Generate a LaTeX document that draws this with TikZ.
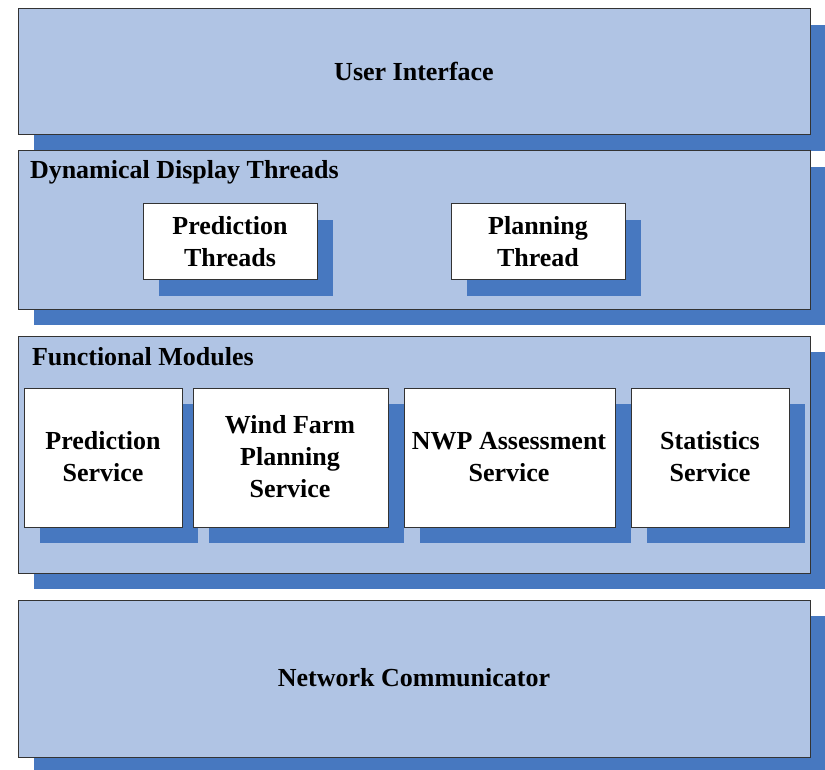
\documentclass[tikz,border=0pt]{standalone}
\usepackage{fontspec}
\setmainfont{Liberation Serif}
\usetikzlibrary{shadows}
\definecolor{panelc}{RGB}{176,196,228}
\definecolor{shadec}{RGB}{71,120,192}
\begin{document}
\begin{tikzpicture}[x=1pt,y=-1pt,
  every node/.style={inner sep=0pt, outer sep=0pt},
  txt/.style={font=\fontsize{26}{32}\selectfont\bfseries, align=center},
  layer/.style={draw=black!80, line width=1pt, fill=panelc, anchor=north west,
    drop shadow={shadow xshift=16pt, shadow yshift=-16pt, opacity=1, fill=shadec, draw=none}},
  item/.style={draw=black!80, line width=1pt, fill=white, anchor=north west,
    drop shadow={shadow xshift=16pt, shadow yshift=-16pt, opacity=1, fill=shadec, draw=none}},
  title/.style={txt, anchor=west}]
\useasboundingbox (0,0) rectangle (825,770);
% layers
\node[layer, minimum width=792pt, minimum height=126pt] (ui) at (18,9) {};
\node[txt] (uit) at (414,71) {User Interface};
\node[layer, minimum width=792pt, minimum height=158pt] (ddt) at (18,151) {};
\node[title] (ddtt) at (30,172) {Dynamical Display Threads};
\node[item, minimum width=174pt, minimum height=76pt] (pt) at (143,204) {};
\node[txt] (ptt) at (230,242) {Prediction\\Threads};
\node[item, minimum width=174pt, minimum height=76pt] (plt) at (451,204) {};
\node[txt] (pltt) at (538,242) {Planning\\Thread};
\node[layer, minimum width=792pt, minimum height=237pt] (fm) at (18,336) {};
\node[title] (fmt) at (32,357) {Functional Modules};
\node[item, minimum width=158pt, minimum height=139pt] (ps) at (24,388) {};
\node[txt] (pst) at (103,457) {Prediction\\Service};
\node[item, minimum width=195pt, minimum height=139pt] (wf) at (193,388) {};
\node[txt] (wft) at (290,457) {Wind Farm\\Planning\\Service};
\node[item, minimum width=211pt, minimum height=139pt] (nwp) at (404,388) {};
\node[txt] (nwpt) at (509,457) {NWP Assessment\\Service};
\node[item, minimum width=158pt, minimum height=139pt] (ss) at (631,388) {};
\node[txt] (sst) at (710,457) {Statistics\\Service};
\node[layer, minimum width=792pt, minimum height=157pt] (nc) at (18,600) {};
\node[txt] (nct) at (414,678) {Network Communicator};
\end{tikzpicture}
\end{document}
